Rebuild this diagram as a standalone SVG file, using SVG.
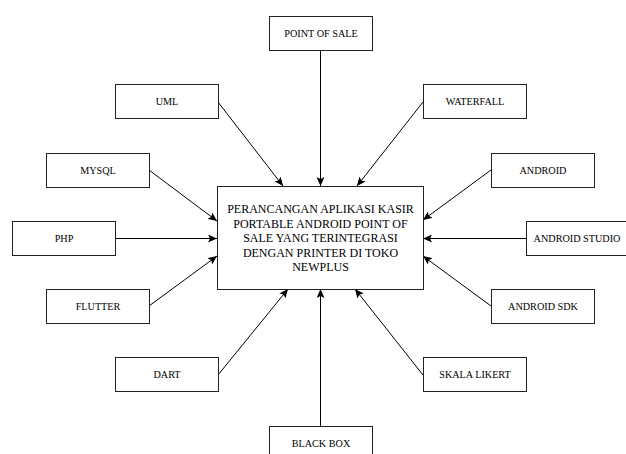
<svg xmlns="http://www.w3.org/2000/svg" width="626" height="454" viewBox="0 0 626 454">
<defs>
<marker id="arr" markerUnits="userSpaceOnUse" markerWidth="10" markerHeight="8" refX="9" refY="4" orient="auto">
<path d="M0,0 L9,4 L0,8 L2,4 Z" fill="#000"/>
</marker>
<style>
rect{fill:#fff;stroke:#222;stroke-width:1}
text{font-family:"Liberation Serif","Times New Roman",serif;fill:#000;text-anchor:middle}
.n{font-size:10.2px}
.m{font-size:12px}
#connectors line{stroke:#000;stroke-width:1;marker-end:url(#arr)}
</style>
</defs>
<rect x="0" y="0" width="626" height="454" style="fill:#fff;stroke:none"/>
<g id="connectors">
<line x1="320.5" y1="50" x2="320.5" y2="186"/>
<line x1="218" y1="102" x2="283" y2="186"/>
<line x1="423" y1="102" x2="357" y2="186"/>
<line x1="149" y1="170" x2="217" y2="221"/>
<line x1="491" y1="170" x2="423" y2="220"/>
<line x1="116" y1="238.5" x2="217" y2="238.5"/>
<line x1="526" y1="238.5" x2="423" y2="238.5"/>
<line x1="149" y1="306" x2="217" y2="256"/>
<line x1="491" y1="306" x2="423" y2="256"/>
<line x1="218" y1="375" x2="288" y2="289"/>
<line x1="423" y1="375" x2="355" y2="289"/>
<line x1="320.5" y1="426" x2="320.5" y2="289"/>
</g>
<g id="main">
<rect x="217.5" y="186.5" width="206" height="103"/>
<text class="m" x="320.5" y="213">PERANCANGAN APLIKASI KASIR</text>
<text class="m" x="320.5" y="227.5">PORTABLE ANDROID POINT OF</text>
<text class="m" x="320.5" y="242">SALE YANG TERINTEGRASI</text>
<text class="m" x="320.5" y="256.5">DENGAN PRINTER DI TOKO</text>
<text class="m" x="320.5" y="271">NEWPLUS</text>
</g>
<g id="pos"><rect x="269.5" y="16.5" width="103" height="34"/><text class="n" x="321" y="37">POINT OF SALE</text></g>
<g id="uml"><rect x="115.5" y="84.5" width="103" height="34"/><text class="n" x="167" y="105">UML</text></g>
<g id="waterfall"><rect x="423.5" y="84.5" width="103" height="34"/><text class="n" x="475" y="105">WATERFALL</text></g>
<g id="mysql"><rect x="46.5" y="153.5" width="103" height="34"/><text class="n" x="98" y="174">MYSQL</text></g>
<g id="android"><rect x="491.5" y="153.5" width="103" height="34"/><text class="n" x="543" y="174">ANDROID</text></g>
<g id="php"><rect x="12.5" y="221.5" width="103" height="34"/><text class="n" x="64" y="242">PHP</text></g>
<g id="androidstudio"><rect x="526.5" y="221.5" width="103" height="34"/><text class="n" x="577" y="242">ANDROID STUDIO</text></g>
<g id="flutter"><rect x="46.5" y="289.5" width="103" height="34"/><text class="n" x="98" y="310">FLUTTER</text></g>
<g id="androidsdk"><rect x="491.5" y="289.5" width="103" height="34"/><text class="n" x="543" y="310">ANDROID SDK</text></g>
<g id="dart"><rect x="115.5" y="357.5" width="103" height="34"/><text class="n" x="167" y="378">DART</text></g>
<g id="skalalikert"><rect x="423.5" y="357.5" width="103" height="34"/><text class="n" x="475" y="378">SKALA LIKERT</text></g>
<g id="blackbox"><rect x="269.5" y="426.5" width="103" height="34"/><text class="n" x="321" y="447">BLACK BOX</text></g>
</svg>
